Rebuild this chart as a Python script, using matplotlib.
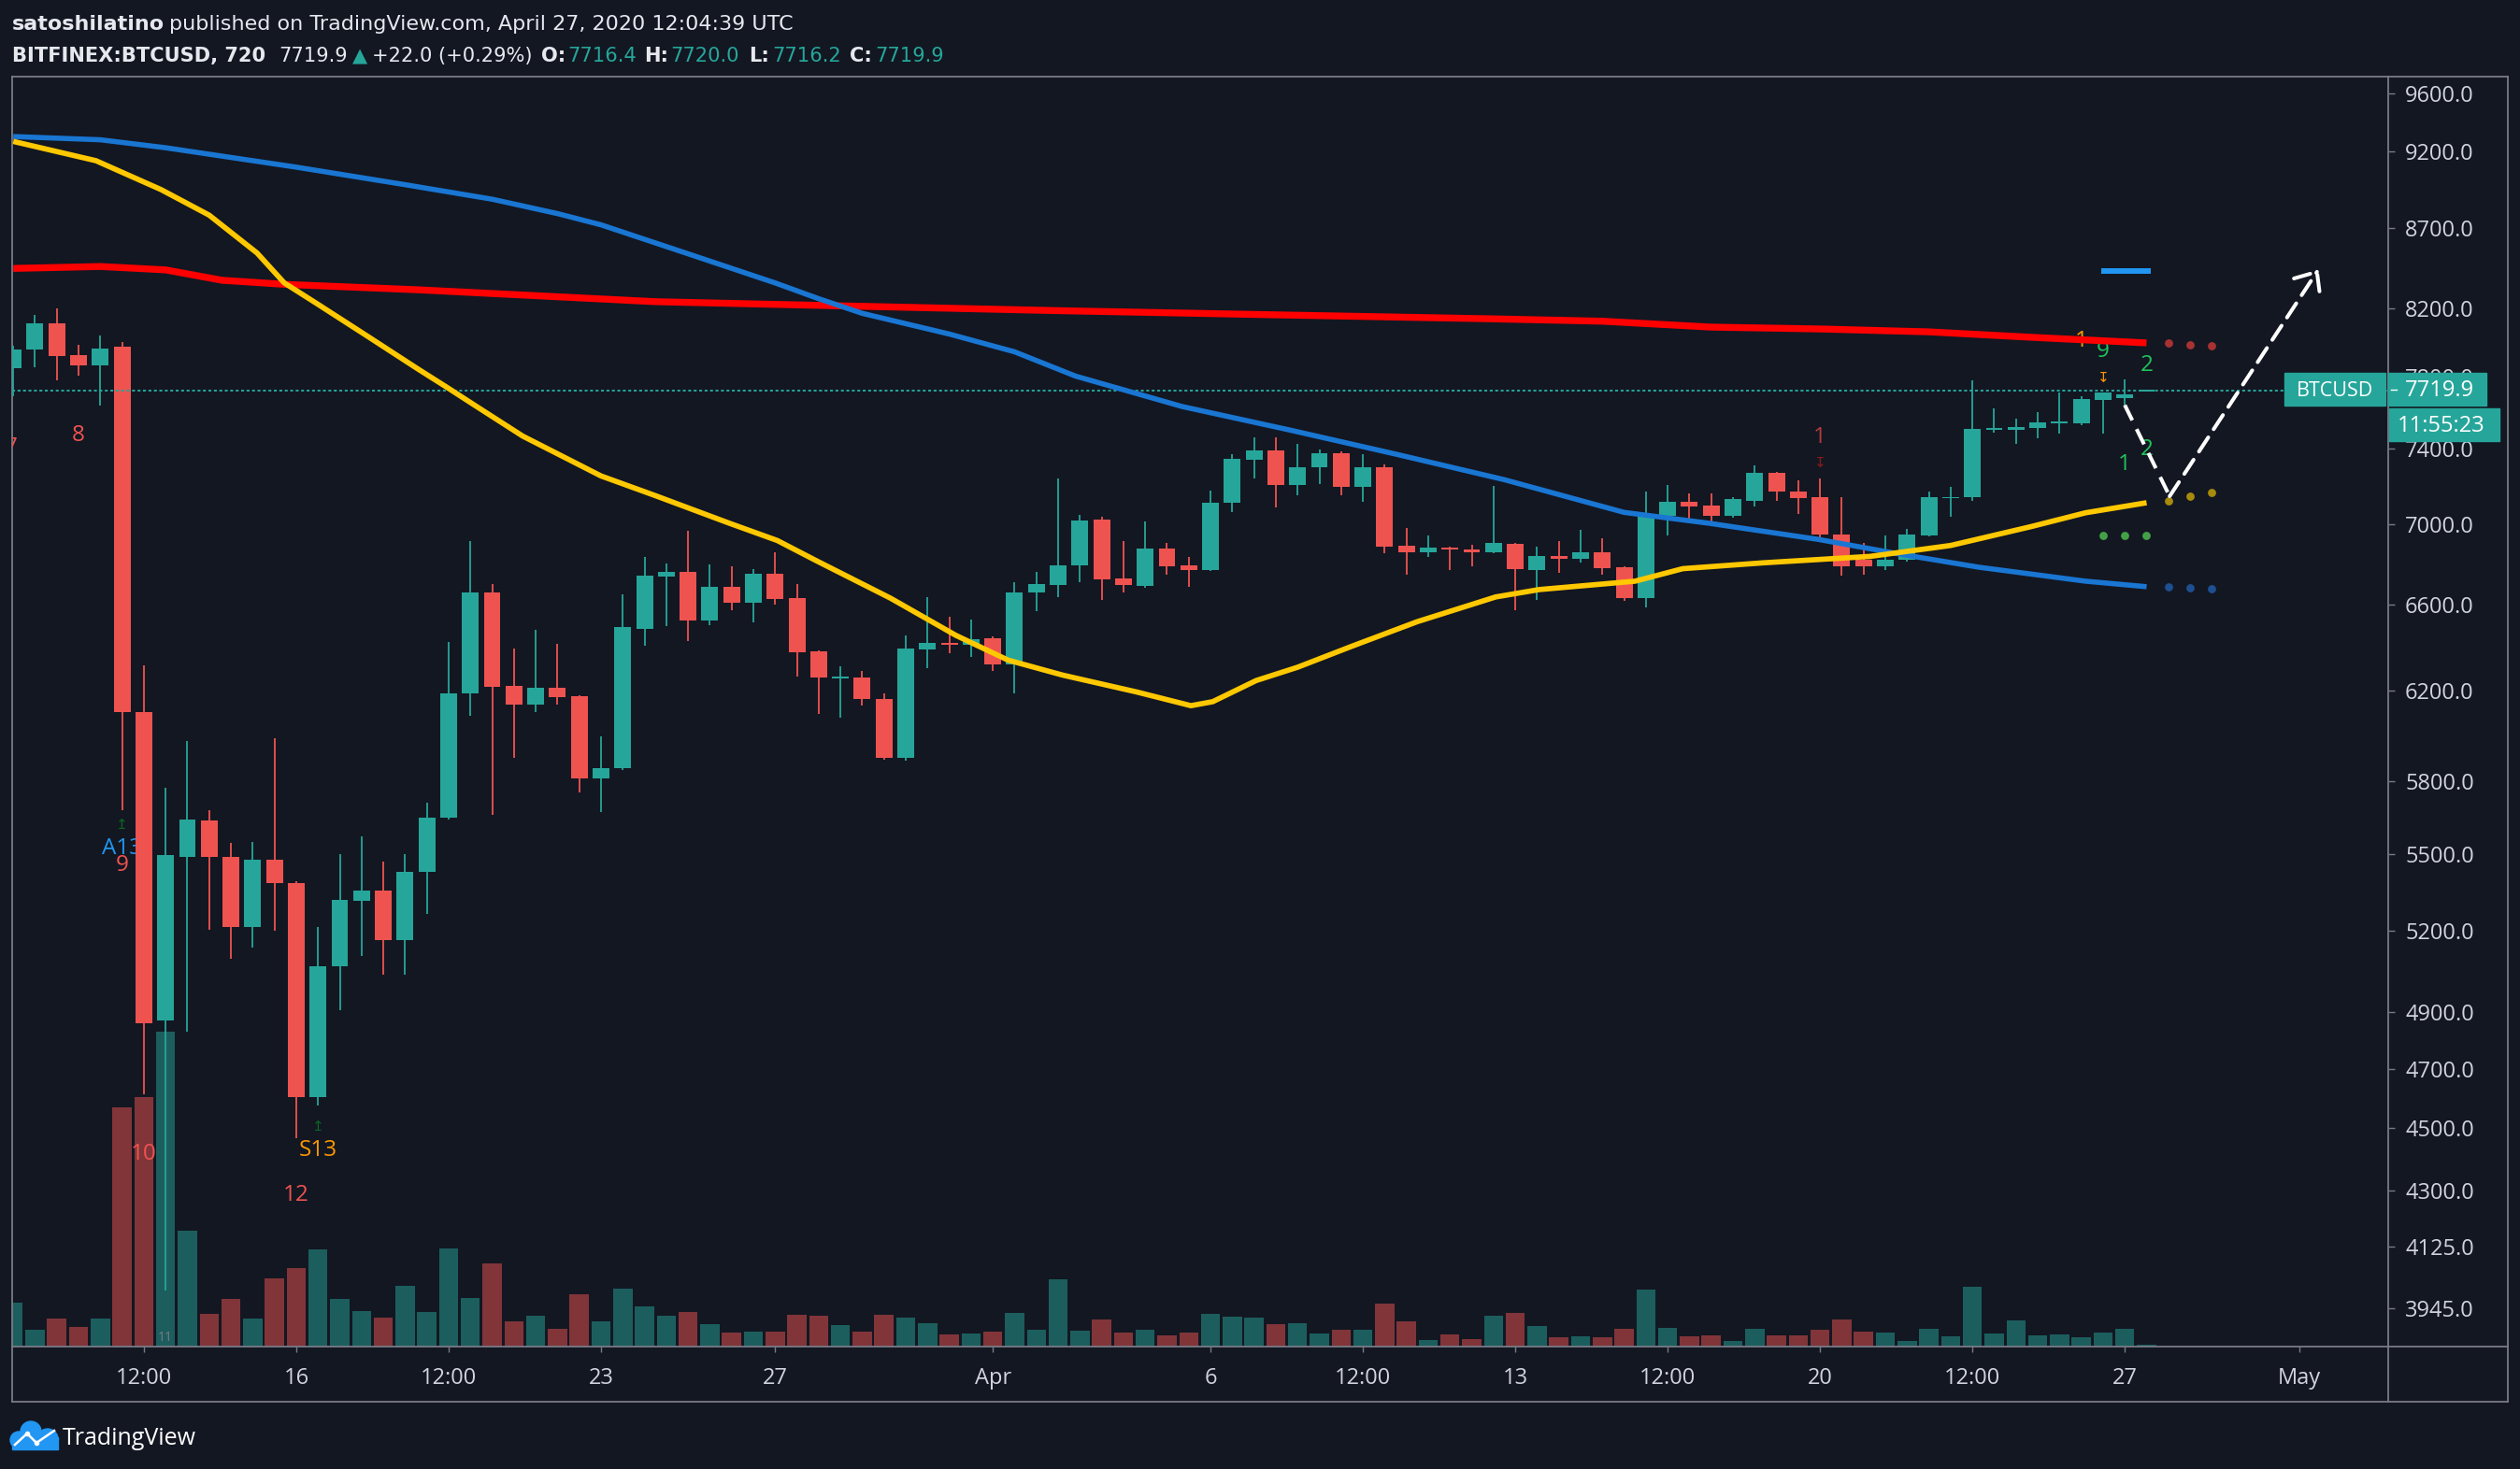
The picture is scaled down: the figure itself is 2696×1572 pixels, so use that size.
import matplotlib
matplotlib.use("Agg")
import matplotlib.pyplot as plt
import numpy as np
from matplotlib import font_manager
from matplotlib.lines import Line2D
from matplotlib.patches import Rectangle, Circle
from matplotlib.ticker import NullLocator
from matplotlib.transforms import Affine2D


def pick_font(*names):
    have = {f.name for f in font_manager.fontManager.ttflist}
    for name in names:
        if name in have:
            return name
    return "DejaVu Sans"


FONT = pick_font("Open Sans", "Lato", "Noto Sans")
plt.rcParams["font.family"] = [FONT, "DejaVu Sans"]

BG = "#131722"
UP = "#26a69a"
DOWN = "#ef5350"
TXT = "#d1d4dc"
FRAME = "#787b86"

# 12h candles, index 0 = 16 Mar 2020 00:00 UTC
bar_idx = list(range(-13, 86))
opens = [7850, 7955, 8110, 7925, 7866, 7972, 6103, 4868, 5490, 5635,
         5488, 5215, 5478, 5386, 4605, 5065, 5316, 5355, 5165, 5428,
         5648, 6185, 6660, 6222, 6135, 6212, 6173, 5815, 5855, 6487,
         6740, 6760, 6525, 6690, 6612, 6752, 6632, 6380, 6254, 6260,
         6161, 5900, 6390, 6418, 6410, 6442, 6317, 6663, 6698, 6792,
         7025, 6730, 6695, 6880, 6792, 6772, 7112, 7342, 7392, 7205,
         7300, 7376, 7195, 7298, 6893, 6862, 6885, 6876, 6858, 6903,
         6772, 6840, 6828, 6861, 6783, 6632, 7045, 7120, 7100, 7045,
         7125, 7270, 7174, 7140, 6950, 6820, 6788, 6820, 6945, 7136,
         7144, 7502, 7504, 7514, 7538, 7541, 7670, 7680, 7716.4]
highs = [7980, 8160, 8200, 7985, 8040, 8000, 6315, 5775, 5975, 5680,
         5545, 5548, 5985, 5390, 5213, 5500, 5572, 5468, 5500, 5710,
         6424, 6915, 6700, 6393, 6480, 6413, 6180, 5993, 6650, 6838,
         6805, 6970, 6800, 6790, 6775, 6860, 6700, 6385, 6310, 6290,
         6187, 6455, 6640, 6545, 6528, 6450, 6713, 6763, 7240, 7050,
         7038, 6915, 7015, 6908, 6838, 7178, 7372, 7463, 7463, 7427,
         7398, 7385, 7372, 7315, 6983, 6945, 6890, 6898, 7200, 6908,
         6890, 6915, 6975, 6931, 6790, 7170, 7205, 7160, 7160, 7140,
         7310, 7275, 7232, 7240, 7140, 6907, 6943, 6980, 7170, 7195,
         7782, 7620, 7563, 7602, 7710, 7688, 7712, 7785, 7720.0]
lows = [7690, 7855, 7780, 7805, 7640, 5680, 4613, 3997, 4830, 5205,
        5093, 5135, 5198, 4468, 4575, 4905, 5103, 5035, 5035, 5263,
        5640, 6085, 5660, 5900, 6103, 6135, 5752, 5673, 5850, 6408,
        6500, 6430, 6505, 6575, 6515, 6603, 6265, 6095, 6078, 6130,
        5895, 5890, 6300, 6370, 6355, 6291, 6188, 6570, 6640, 6710,
        6625, 6660, 6683, 6750, 6690, 6765, 7065, 7240, 7088, 7150,
        7210, 7150, 7117, 6855, 6750, 6838, 6772, 6790, 6855, 6577,
        6625, 6758, 6808, 6750, 6620, 6590, 6945, 7030, 7008, 7035,
        7095, 7122, 7055, 6937, 6743, 6748, 6770, 6815, 6940, 7041,
        7122, 7490, 7425, 7455, 7483, 7526, 7483, 7640, 7716.2]
closes = [7960, 8110, 7918, 7866, 7965, 6103, 4860, 5495, 5640, 5490,
          5215, 5478, 5385, 4605, 5065, 5320, 5355, 5165, 5430, 5650,
          6185, 6660, 6218, 6135, 6212, 6170, 5815, 5855, 6495, 6745,
          6760, 6525, 6690, 6612, 6752, 6630, 6375, 6257, 6262, 6163,
          5900, 6394, 6420, 6412, 6438, 6317, 6661, 6702, 6795, 7020,
          6725, 6698, 6880, 6790, 6772, 7115, 7345, 7392, 7205, 7302,
          7376, 7195, 7298, 6890, 6862, 6885, 6872, 6858, 6908, 6776,
          6840, 6828, 6861, 6780, 6635, 7055, 7120, 7095, 7045, 7132,
          7270, 7170, 7136, 6950, 6788, 6790, 6820, 6950, 7140, 7144,
          7508, 7512, 7518, 7543, 7548, 7673, 7709, 7697.9, 7719.9]
# volume, relative units (read as bar heights)
volume = [47, 18, 30, 21, 30, 256, 267, 337, 124, 35,
          51, 30, 73, 84, 104, 51, 38, 31, 65, 37,
          105, 52, 89, 27, 33, 19, 56, 27, 62, 43,
          33, 37, 24, 15, 16, 16, 34, 33, 23, 16,
          34, 31, 25, 13, 14, 16, 36, 18, 72, 17,
          29, 15, 18, 12, 15, 35, 32, 31, 24, 25,
          14, 18, 18, 46, 27, 7, 13, 8, 33, 36,
          22, 10, 11, 10, 19, 61, 20, 11, 12, 6,
          19, 12, 12, 18, 29, 16, 15, 6, 19, 11,
          64, 14, 28, 12, 13, 10, 15, 19, 2]

# moving averages (bar index, price)
ma_red_x = [-13, -9, -6, -3.4, -0.5, 5.6, 16.5, 25, 35, 45, 55, 60, 65, 70, 75, 80, 85]
ma_red_y = [8444, 8456, 8435, 8371, 8346, 8313, 8241, 8216, 8187, 8162, 8138, 8124, 8089, 8078, 8061, 8027, 7996]
ma_blue_x = [-13, -9, -6, 0, 5, 9, 12, 14, 18, 22, 24, 26, 30, 33, 35.8, 40.7, 45.6, 50.5, 55.5,
             61, 64.9, 69.9, 73.8, 77.3, 82.2, 85]
ma_blue_y = [9300, 9278, 9224, 9094, 8978, 8883, 8790, 8718, 8535, 8355, 8259, 8171, 8048, 7944, 7804, 7632,
             7503, 7371, 7234, 7063, 7007, 6925, 6848, 6785, 6716, 6689]
ma_yel_x = [-13, -9.2, -6.2, -4, -1.8, -0.55, 1, 3.3, 5.6, 6.9, 8.2, 10.4, 14, 16.5, 19.9, 22.1, 23.9,
            27.3, 30.3, 32.7, 35.2, 38.6, 41.1, 42.1, 44.1, 46, 48.5, 51.5, 55.1, 57.1, 61.5, 63.7,
            67.4, 72.3, 76, 79.7, 82.2, 85]
ma_yel_y = [9267, 9137, 8945, 8780, 8540, 8355, 8225, 8033, 7844, 7742, 7639, 7469, 7254, 7150, 7007,
            6919, 6817, 6633, 6455, 6339, 6270, 6193, 6131, 6149, 6245, 6306, 6404, 6520, 6639, 6675,
            6716, 6778, 6807, 6839, 6894, 6990, 7061, 7113]

# projection dots after the last bar
proj_x = [86, 87, 88]
proj_red = [7993, 7985, 7980]
proj_yel = [7125, 7145, 7165]
proj_blue = [6686, 6684, 6681]
green_x = [83, 84, 85]
green_y = [6945, 6945, 6945]

# sequential counter labels
td_text = ["7", "8", "A13", "9", "10", "12", "S13", "1", "1", "9", "1", "2", "2"]
td_x = [-13.1, -10, -8, -8, -7, 0, 1, 70, 82, 83, 84, 85, 85]
td_y = [7405, 7470, 5524, 5455, 4416, 4285, 4429, 7461, 8005, 7944, 7314, 7867, 7397]
td_col = [DOWN, DOWN, "#2196f3", DOWN, DOWN, DOWN, "#ff9800", "#b33a3a", "#ff9800",
          "#1fc35a", "#1fc35a", "#1fc35a", "#1fc35a"]
mark_text = ["\u21a5", "\u21a5", "\u21a7", "\u21a7"]
mark_x = [-8, 1, 70, 83]
mark_y = [5619, 4506, 7328, 7800]
mark_col = ["#0b6623", "#0b6623", "#8b1a1a", "#ff9800"]

# drawn path and level
path_x = [84, 86.06, 92.9]
path_y = [7640, 7147, 8438]
level_x = [82.9, 85.2]
level_y = 8430
last_price = 7719.9

tick_idx = [-7, 0, 7, 14, 22, 32, 42, 49, 56, 63, 70, 77, 84, 92]
tick_lbl = ["12:00", "16", "12:00", "23", "27", "Apr", "6", "12:00", "13", "12:00", "20", "12:00", "27", "May"]
price_ticks = [9600, 9200, 8700, 8200, 7800, 7400, 7000, 6600, 6200, 5800, 5500, 5200,
               4900, 4700, 4500, 4300, 4125, 3945]

W, H, DPI = 2696, 1572, 100
fig = plt.figure(figsize=(W / DPI, H / DPI), dpi=DPI, facecolor=BG)
PX = Affine2D().scale(1, -1).translate(0, H)

L, R, T, B = 13, 2555, 82, 1441
ax_vol = fig.add_axes([L / W, 1 - B / H, (R - L) / W, (B - T) / H])
ax_vol.set_facecolor(BG)
ax = ax_vol.twinx()

x = np.array(bar_idx, dtype=float)
o, h, l, c = (np.array(v, dtype=float) for v in (opens, highs, lows, closes))
col = np.where(c >= o, UP, DOWN)

ax_vol.bar(x, volume, width=0.88, color=col, alpha=0.5, linewidth=0)
ax_vol.set_ylim(0, B - T)
ax_vol.set_yticks([])

ax.set_yscale("log")
ax.vlines(x, l, h, colors=col, linewidth=1.3, zorder=2)
lo = np.minimum(o, c)
ax.bar(x, np.maximum(np.abs(c - o), lo * 0.0012), bottom=lo, width=0.77,
       color=col, linewidth=0, zorder=2.2)

for s, xi, yi, cc in zip(td_text, td_x, td_y, td_col):
    ax.text(xi, yi, s, color=cc, fontsize=17.5, ha="center", va="center", zorder=1.8, clip_on=True)
for s, xi, yi, cc in zip(mark_text, mark_x, mark_y, mark_col):
    ax.text(xi, yi, s, color=cc, fontsize=11, ha="center", va="center", zorder=1.8,
            family="DejaVu Sans")
ax.text(-6, 3860, "11", color=FRAME, fontsize=10, ha="center", va="center", clip_on=True)

ax.axhline(last_price, color=UP, lw=1.4, ls=(0, (1.6, 1.4)), zorder=2.5)

ax.plot(ma_red_x, ma_red_y, color="#ff0000", lw=5.3, zorder=3, solid_capstyle="butt")
ax.plot(ma_blue_x, ma_blue_y, color="#1976d2", lw=4.0, zorder=3, solid_capstyle="butt")
ax.plot(ma_yel_x, ma_yel_y, color="#ffc800", lw=4.1, zorder=3, solid_capstyle="butt")

ax.scatter(proj_x, proj_red, s=40, color="#a83232", zorder=3, linewidths=0)
ax.scatter(proj_x, proj_yel, s=40, color="#a88b0c", zorder=3, linewidths=0)
ax.scatter(proj_x, proj_blue, s=40, color="#1d4f91", zorder=3, linewidths=0)
ax.scatter(green_x, green_y, s=40, color="#43a047", zorder=3, linewidths=0)

ax.plot(level_x, [level_y, level_y], color="#2196f3", lw=4.3, zorder=3, solid_capstyle="butt")

dash = (0, (4.5, 2.6))
ax.plot(path_x[:2], path_y[:2], color="white", lw=2.9, ls=dash, zorder=4)
ax.annotate("", xy=(path_x[2], path_y[2]), xytext=(path_x[1], path_y[1]),
            arrowprops=dict(arrowstyle="->,head_length=0.7,head_width=0.6", color="white",
                            lw=2.9, ls=dash, shrinkA=0, shrinkB=0, mutation_scale=20),
            zorder=4)

ax.set_ylim(3835, 9717)
ax.yaxis.set_minor_locator(NullLocator())
ax.set_yticks(price_ticks)
ax.set_yticklabels([f"{p:.1f}" for p in price_ticks])
ax.tick_params(axis="y", which="major", length=5, width=1, color=FRAME, pad=8,
               labelsize=17, labelcolor=TXT)

ax_vol.set_xticks(tick_idx)
ax_vol.set_xticklabels(tick_lbl)
ax_vol.tick_params(axis="x", length=4.5, width=1, color=FRAME, pad=11,
                   labelsize=17, labelcolor=TXT)
ax_vol.set_xlim(-13.05, 96.1)

for sp in ax.spines.values():
    sp.set_visible(False)
for sp in ax_vol.spines.values():
    sp.set_color(FRAME)
    sp.set_linewidth(1.3)

# outer frame of the axis panes
for (x0, y0, x1, y1) in [(L, B, L, 1500), (R, B, R, 1500), (L, 1500, 2683, 1500),
                         (2683, T, 2683, 1500), (R, T, 2683, T), (R, B, 2683, B)]:
    fig.add_artist(Line2D([x0, x1], [y0, y1], transform=PX, color=FRAME, lw=1.3))

# last price labels
fig.add_artist(Rectangle((2444, 399), 108, 35, transform=PX, color=UP, zorder=10))
fig.text(2498, 418, "BTCUSD", transform=PX, color="white", fontsize=15.5,
         ha="center", va="center", zorder=11)
fig.add_artist(Rectangle((2555, 399), 105, 35, transform=PX, color=UP, zorder=10))
fig.add_artist(Line2D([2558, 2564], [417, 417], transform=PX, color="white", lw=1, zorder=11))
fig.text(2573, 418, f"{last_price:.1f}", transform=PX, color="white", fontsize=17,
         ha="left", va="center", zorder=11)
fig.add_artist(Rectangle((2556, 437), 118, 35, transform=PX, color=UP, zorder=10))
fig.text(2565, 456, "11:55:23", transform=PX, color="white", fontsize=17,
         ha="left", va="center", zorder=11)

# header
renderer = fig.canvas.get_renderer()


def text_row(parts, x0, y0, size):
    xx = x0
    for s, color, weight, gap in parts:
        t = fig.text(xx, y0, s, transform=PX, color=color, fontsize=size,
                     fontweight=weight, ha="left", va="baseline", family="DejaVu Sans")
        xx += t.get_window_extent(renderer).width + gap


WHITE = "#e6e8ee"
text_row([("satoshilatino", WHITE, "bold", 5),
          ("published on TradingView.com, April 27, 2020 12:04:39 UTC", WHITE, "normal", 0)],
         13, 32, 16.0)
text_row([("BITFINEX:BTCUSD, 720", WHITE, "bold", 14),
          ("7719.9", WHITE, "normal", 5),
          ("\u25b2", UP, "normal", 5),
          ("+22.0 (+0.29%)", WHITE, "normal", 10),
          ("O:", WHITE, "bold", 2), ("7716.4", UP, "normal", 8),
          ("H:", WHITE, "bold", 2), ("7720.0", UP, "normal", 10),
          ("L:", WHITE, "bold", 3), ("7716.2", UP, "normal", 10),
          ("C:", WHITE, "bold", 3), ("7719.9", UP, "normal", 0)],
         13, 66, 15.1)

# TradingView logo
LOGO = "#2196f3"
for cx, cy, r in [(33, 1532, 11), (20, 1541, 9), (51, 1540, 11)]:
    fig.add_artist(Circle((cx, cy), r, transform=PX, color=LOGO, zorder=10))
fig.add_artist(Rectangle((13, 1538), 49, 13, transform=PX, color=LOGO, zorder=10))
fig.add_artist(Line2D([16, 29, 39, 58], [1546, 1534, 1544, 1531], transform=PX, color="white",
                      lw=1.8, zorder=11, marker="o", markersize=3, markevery=[1, 2]))
fig.text(67, 1546, "TradingView", transform=PX, color="white", fontsize=18,
         ha="left", va="baseline")

fig.savefig("out.png", dpi=DPI, facecolor=BG)
